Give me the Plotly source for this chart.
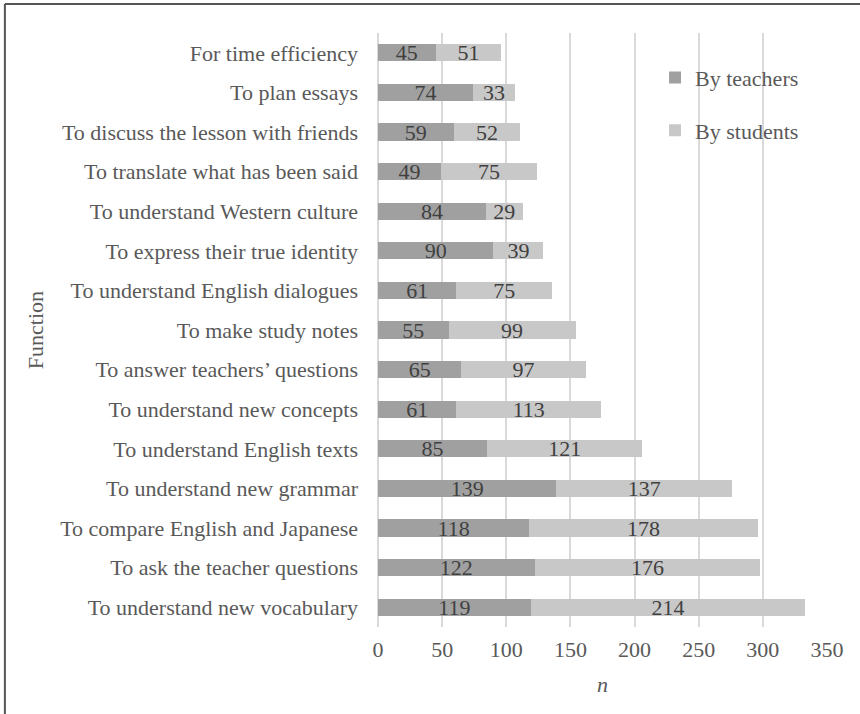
import plotly.graph_objects as go

functions = [
    "For time efficiency",
    "To plan essays",
    "To discuss the lesson with friends",
    "To translate what has been said",
    "To understand Western culture",
    "To express their true identity",
    "To understand English dialogues",
    "To make study notes",
    "To answer teachers\u2019 questions",
    "To understand new concepts",
    "To understand English texts",
    "To understand new grammar",
    "To compare English and Japanese",
    "To ask the teacher questions",
    "To understand new vocabulary",
]
by_teachers = [45, 74, 59, 49, 84, 90, 61, 55, 65, 61, 85, 139, 118, 122, 119]
by_students = [51, 33, 52, 75, 29, 39, 75, 99, 97, 113, 121, 137, 178, 176, 214]
x_ticks = [0, 50, 100, 150, 200, 250, 300, 350]

FONT = "Liberation Serif, Times New Roman, serif"
FS = 22
TEXT_GREY = "#595959"
LABEL_GREY = "#404040"

fig = go.Figure()
for name, vals, colour, grp in [
    ("By teachers", by_teachers, "#a0a0a0", "t"),
    ("By students", by_students, "#c8c8c8", "s"),
]:
    fig.add_trace(go.Bar(
        y=functions, x=vals, name=name, orientation="h",
        marker=dict(color=colour, line=dict(width=0)),
        text=[str(v) for v in vals],
        textposition="inside", insidetextanchor="middle", textangle=0,
        constraintext="none", cliponaxis=False,
        textfont=dict(family=FONT, size=FS, color=LABEL_GREY),
        legendgroup=grp,
    ))

fig.update_layout(
    width=860, height=714,
    barmode="stack", bargap=0.57,
    paper_bgcolor="white", plot_bgcolor="white",
    margin=dict(l=378, r=33, t=33, b=87),
    font=dict(family=FONT, size=FS, color=TEXT_GREY),
    showlegend=True,
    legend=dict(
        x=0.617, y=0.96, xanchor="left", yanchor="top",
        traceorder="grouped", tracegroupgap=21,
        font=dict(family=FONT, size=FS, color=TEXT_GREY),
        bgcolor="rgba(0,0,0,0)", itemwidth=30,
    ),
    xaxis=dict(
        range=[0, 350], tickvals=x_ticks,
        showgrid=True, gridcolor="#d9d9d9", gridwidth=2,
        zeroline=True, zerolinecolor="#d9d9d9", zerolinewidth=2,
        showline=False, ticks="", ticklabelstandoff=7,
        tickfont=dict(family=FONT, size=FS, color=TEXT_GREY),
        title=dict(text="<i>n</i>", standoff=15,
                   font=dict(family=FONT, size=FS, color=TEXT_GREY)),
    ),
    yaxis=dict(
        autorange="reversed", showgrid=False, ticks="",
        showline=False, ticklabelstandoff=19,
        tickfont=dict(family=FONT, size=FS, color=TEXT_GREY),
        title=dict(text="Function", standoff=10,
                   font=dict(family=FONT, size=FS, color=TEXT_GREY)),
    ),
    shapes=[
        dict(type="line", xref="paper", yref="paper", x0=-0.831, x1=1.2,
             y0=1.0488, y1=1.0488, line=dict(color="#555555", width=2)),
        dict(type="line", xref="paper", yref="paper", x0=-0.831, x1=-0.831,
             y0=1.0488, y1=-0.3, line=dict(color="#555555", width=2)),
    ],
)

fig.write_html("out.html")
